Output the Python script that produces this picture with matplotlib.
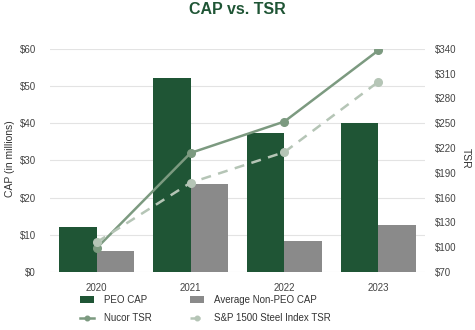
import numpy as np
import matplotlib.pyplot as plt

plt.rcParams['font.family'] = ['Liberation Sans', 'DejaVu Sans']

years = ['2020', '2021', '2022', '2023']
peo_cap = [12.2, 52.2, 37.4, 40.1]
non_peo_cap = [5.7, 23.7, 8.4, 12.6]
nucor_tsr = [99, 214, 252, 338]
steel_tsr = [106, 178, 215, 300]

green = '#1f5535'
grey = '#8a8a8a'
sage = '#7c9a80'
light = '#b5c5b6'

fig = plt.figure(figsize=(4.75, 3.3), dpi=100)
ax = fig.add_axes([0.105, 0.176, 0.79, 0.676])
ax2 = ax.twinx()

x = np.arange(len(years))
w = 0.4
ax.bar(x - w/2, peo_cap, w, color=green, label='PEO CAP', zorder=2)
ax.bar(x + w/2, non_peo_cap, w, color=grey, label='Average Non-PEO CAP', zorder=2)

ax2.plot(x, nucor_tsr, color=sage, lw=1.8, marker='o', ms=5.5, label='Nucor TSR', zorder=3)
ax2.plot(x, steel_tsr, color=light, lw=1.8, ls=(0, (4, 3)), marker='o', ms=5.5,
         label='S&P 1500 Steel Index TSR', zorder=3)

ax.set_xlim(-0.5, 3.5)
ax.set_ylim(0, 60)
ax.set_yticks(range(0, 61, 10))
ax.set_yticklabels(['$%d' % v for v in range(0, 61, 10)])
ax2.set_ylim(70, 340)
ax2.set_yticks(range(70, 341, 30))
ax2.set_yticklabels(['$%d' % v for v in range(70, 341, 30)])
ax.set_xticks(x)
ax.set_xticklabels(years)

for a in (ax, ax2):
    for s in a.spines.values():
        s.set_visible(False)
    a.tick_params(length=0, labelsize=7, labelcolor='#444444')
ax.tick_params(axis='y', pad=10)
ax2.tick_params(axis='y', pad=7)
ax.tick_params(axis='x', pad=8)
ax.grid(axis='y', color='#e3e3e3', lw=0.8, zorder=0)
ax.set_axisbelow(True)
ax.set_zorder(ax2.get_zorder() - 1)
ax.patch.set_visible(False)

fig.text(10/475, 0.52, 'CAP (in millions)', rotation=90, ha='center', va='center',
         fontsize=7.5, color='#333333')
fig.text(466/475, 0.52, 'TSR', rotation=270, ha='center', va='center',
         fontsize=7.5, color='#333333')

fig.text(0.5, 0.972, 'CAP vs. TSR', ha='center', va='center', fontsize=11.5,
         fontweight='bold', color=green)

h1, l1 = ax.get_legend_handles_labels()
h2, l2 = ax2.get_legend_handles_labels()
handles = [h1[0], h2[0], h1[1], h2[1]]
labels = [l1[0], l2[0], l1[1], l2[1]]
leg = fig.legend(handles, labels, ncol=2, loc='lower left', bbox_to_anchor=(0.168, 0.021),
                 frameon=False, fontsize=7, handlelength=1.5, handletextpad=1.0,
                 columnspacing=3.9, labelspacing=0.85, markerscale=0.6,
                 borderpad=0, borderaxespad=0)
for t in leg.get_texts():
    t.set_color('#333333')

fig.savefig('out.png', dpi=100)
